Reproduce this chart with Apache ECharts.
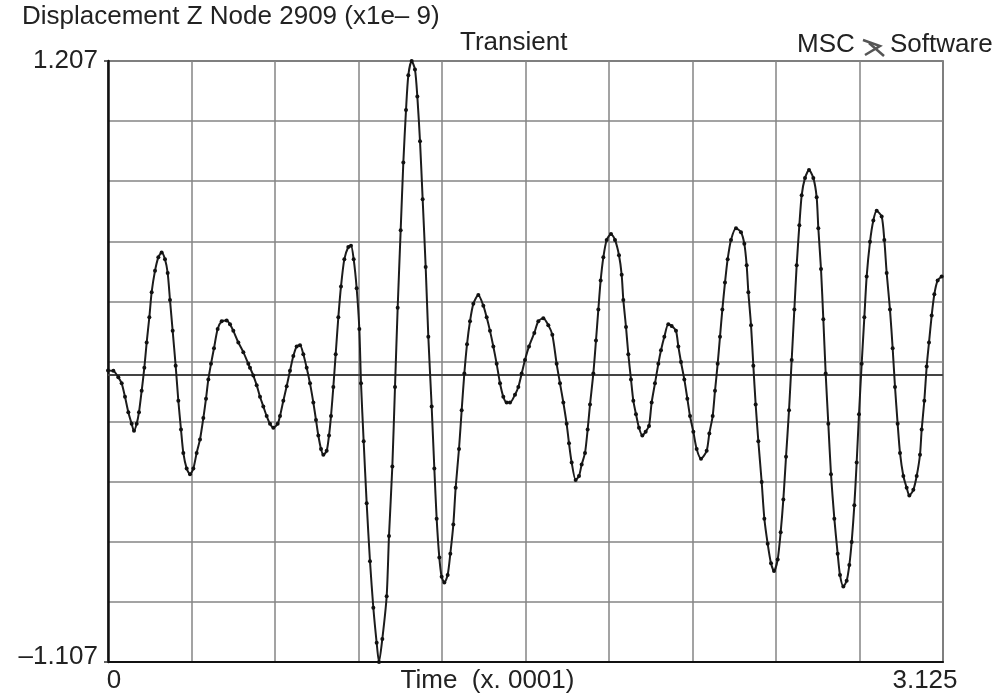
<!DOCTYPE html>
<html>
<head>
<meta charset="utf-8">
<title>Displacement Z Node 2909</title>
<script src="https://cdn.jsdelivr.net/npm/echarts@6/dist/echarts.min.js"></script>
<style>
  html, body { margin: 0; padding: 0; background: #fff; }
  #chart { width: 997px; height: 694px; }
</style>
</head>
<body>
<div id="chart"></div>
<script>
// time (x 0.0001), one row per grid strip
var times = [
  0, 0.020, 0.0387, 0.0512, 0.0636, 0.0761, 0.0886, 0.0973, 0.1073, 0.1160, 0.1260, 0.1360, 0.1447, 0.1547, 0.1634, 0.1759, 0.1884, 0.2008, 0.2133, 0.2233, 0.2320, 0.2420, 0.2532, 0.2632, 0.2732, 0.2819, 0.2944, 0.3069, 0.3194, 0.3318, 0.3443, 0.3568, 0.3668, 0.3755, 0.3855, 0.3967, 0.4104, 0.4254, 0.4441, 0.4566, 0.4691, 0.4878, 0.5065, 0.5252,
  0.5314, 0.5439, 0.5564, 0.5689, 0.5813, 0.5938, 0.6063, 0.6188, 0.6350, 0.6437, 0.6562, 0.6687, 0.6811, 0.6936, 0.7061, 0.7186, 0.7310, 0.7435, 0.7560, 0.7685, 0.7784, 0.7872, 0.7972, 0.8059, 0.8184, 0.8271, 0.8346, 0.8433, 0.8521, 0.8620, 0.8720, 0.8845, 0.8994, 0.9094, 0.9194, 0.9306, 0.9406, 0.9469, 0.9568, 0.9681, 0.9805, 0.9930, 1.0055, 1.0142, 1.0267, 1.0429, 1.0516,
  1.0641, 1.0741, 1.0841, 1.0953, 1.1053, 1.1153, 1.1240, 1.1365, 1.1489, 1.1577, 1.1677, 1.1776, 1.1889, 1.1988, 1.2113, 1.2213, 1.2300, 1.2400, 1.2487, 1.2587, 1.2712, 1.2812, 1.2924, 1.3011, 1.3136, 1.3236, 1.3336, 1.3436, 1.3548, 1.3673, 1.3860, 1.4047, 1.4172, 1.4296, 1.4421, 1.4546, 1.4671, 1.4795, 1.4920, 1.5045, 1.5232, 1.5357, 1.5482, 1.5606, 1.5756,
  1.5955, 1.6105, 1.6292, 1.6479, 1.6629, 1.6791, 1.6916, 1.7041, 1.7165, 1.7253, 1.7353, 1.7502, 1.7627, 1.7727, 1.7852, 1.7951, 1.8039, 1.8164, 1.8263, 1.8351, 1.8438, 1.8538, 1.8663, 1.8825, 1.8974, 1.9124, 1.9224, 1.9286, 1.9386, 1.9473, 1.9573, 1.9660, 1.9760, 1.9872, 1.9997, 2.0122, 2.0247, 2.0346, 2.0471, 2.0596, 2.0696, 2.0821, 2.0970,
  2.1095, 2.1257, 2.1345, 2.1444, 2.1569, 2.1682, 2.1782, 2.1906, 2.2031, 2.2193, 2.2405, 2.2505, 2.2630, 2.2717, 2.2817, 2.2904, 2.2992, 2.3091, 2.3191, 2.3316, 2.3503, 2.3690, 2.3815, 2.3902, 2.3965, 2.4065, 2.4152, 2.4239, 2.4339, 2.4464, 2.4564, 2.4689, 2.4813, 2.4926, 2.5063, 2.5175, 2.5275, 2.5375, 2.5487, 2.5587, 2.5687, 2.5774, 2.5874, 2.5961, 2.6086, 2.6236,
  2.6397, 2.6522, 2.6584, 2.6684, 2.6771, 2.6859, 2.6958, 2.7058, 2.7183, 2.7308, 2.7395, 2.7520, 2.7645, 2.7744, 2.7832, 2.7932, 2.8019, 2.8106, 2.8206, 2.8306, 2.8393, 2.8518, 2.8643, 2.8768, 2.8955, 2.9054, 2.9142, 2.9266, 2.9366, 2.9454, 2.9553, 2.9641, 2.9766, 2.9890, 2.9990, 3.0140, 3.0265, 3.0389, 3.0452, 3.0551, 3.0639, 3.0726, 3.0826, 3.0926, 3.1050, 3.1200
];

// displacement (x1e-9)
var displacement = [
  0.015, 0.014, -0.011, -0.034, -0.086, -0.145, -0.190, -0.217, -0.190, -0.145, -0.063, 0.026, 0.123, 0.220, 0.317, 0.399, 0.451, 0.470, 0.444, 0.391, 0.287, 0.168, 0.034, -0.101, -0.212, -0.302, -0.362, -0.384, -0.362, -0.302, -0.250, -0.168, -0.093, -0.019, 0.041, 0.101, 0.175, 0.205, 0.208, 0.193, 0.168, 0.123, 0.086, 0.041,
  0.026, -0.004, -0.041, -0.086, -0.123, -0.160, -0.190, -0.205, -0.190, -0.160, -0.101, -0.045, 0.014, 0.071, 0.108, 0.113, 0.078, 0.026, -0.034, -0.108, -0.175, -0.235, -0.287, -0.309, -0.294, -0.235, -0.160, -0.048, 0.078, 0.220, 0.339, 0.444, 0.491, 0.496, 0.444, 0.332, 0.175, -0.034, -0.257, -0.496, -0.719, -0.898, -1.033, -1.107, -1.018, -0.854, -0.622,
  -0.354, -0.048, 0.257, 0.555, 0.816, 1.018, 1.152, 1.207, 1.174, 1.070, 0.898, 0.675, 0.414, 0.145, -0.123, -0.362, -0.555, -0.705, -0.779, -0.801, -0.772, -0.690, -0.578, -0.436, -0.287, -0.138, 0.004, 0.116, 0.205, 0.272, 0.306, 0.265, 0.220, 0.168, 0.108, 0.041, -0.034, -0.086, -0.108, -0.108, -0.078, -0.048, 0.004, 0.056, 0.108,
  0.160, 0.205, 0.217, 0.190, 0.153, 0.041, -0.034, -0.108, -0.190, -0.265, -0.339, -0.406, -0.391, -0.347, -0.302, -0.212, -0.116, 0.004, 0.131, 0.250, 0.362, 0.451, 0.518, 0.541, 0.518, 0.459, 0.384, 0.287, 0.183, 0.078, -0.019, -0.101, -0.153, -0.205, -0.235, -0.220, -0.198, -0.108, -0.034, 0.041, 0.093, 0.145, 0.193,
  0.187, 0.168, 0.108, 0.048, -0.019, -0.093, -0.160, -0.220, -0.287, -0.324, -0.294, -0.227, -0.160, -0.063, 0.041, 0.145, 0.250, 0.354, 0.444, 0.518, 0.563, 0.548, 0.503, 0.421, 0.317, 0.190, 0.034, -0.116, -0.257, -0.414, -0.555, -0.652, -0.727, -0.757, -0.712, -0.607, -0.481, -0.317, -0.138, 0.056, 0.250, 0.421, 0.575, 0.690, 0.757, 0.787,
  0.757, 0.682, 0.563, 0.406, 0.213, 0.004, -0.190, -0.384, -0.555, -0.690, -0.772, -0.816, -0.794, -0.734, -0.645, -0.503, -0.339, -0.153, 0.041, 0.220, 0.377, 0.511, 0.593, 0.630, 0.608, 0.518, 0.391, 0.250, 0.101, -0.048, -0.190, -0.302, -0.391, -0.436, -0.466, -0.444, -0.391, -0.309, -0.212, -0.101, 0.031, 0.123, 0.227, 0.309, 0.362, 0.377
];

var xTickLabels = [0, 3.125];
var yTickLabels = [-1.107, 1.207];

var font = '"Liberation Sans", Arial, sans-serif';
var textColor = '#222';
var gridColor = '#858585';

if (times.length !== displacement.length) {
  console.error('length mismatch', times.length, displacement.length);
}
var points = times.map(function (t, i) { return [t, displacement[i]]; });

function isTick(v, list) {
  for (var i = 0; i < list.length; i++) {
    if (Math.abs(v - list[i]) < 1e-6) return true;
  }
  return false;
}

var option = {
  animation: false,
  backgroundColor: '#fff',
  title: [
    { text: 'Displacement Z Node 2909 (x1e\u2013 9)', left: 22, top: 4, padding: 0,
      textStyle: { fontSize: 26, fontWeight: 'normal', color: textColor, fontFamily: font } },
    { text: 'Transient', left: 460, top: 30, padding: 0,
      textStyle: { fontSize: 26, fontWeight: 'normal', color: textColor, fontFamily: font } },
    { text: 'MSC', left: 797, top: 32, padding: 0,
      textStyle: { fontSize: 26, fontWeight: 'normal', color: textColor, fontFamily: font } },
    { text: 'Software', left: 890, top: 32, padding: 0,
      textStyle: { fontSize: 26, fontWeight: 'normal', color: textColor, fontFamily: font } }
  ],
  graphic: [
    // little MSC logo mark between the two words
    { type: 'polyline', shape: { points: [[863, 40], [880, 46], [865, 55]] },
      style: { stroke: '#555', lineWidth: 2.5, fill: null } },
    { type: 'line', shape: { x1: 869, y1: 43, x2: 884, y2: 56 },
      style: { stroke: '#555', lineWidth: 2.5 } }
  ],
  grid: {
    left: 108, right: 54, top: 61, bottom: 32,
    outerBoundsMode: 'none',
    containLabel: false,
    show: true, borderColor: '#444', borderWidth: 1.5
  },
  xAxis: {
    type: 'value',
    min: 0, max: 3.125, interval: 0.3125,
    name: 'Time  (x. 0001)',
    nameLocation: 'middle',
    nameGap: 6,
    nameMoveOverlap: false,
    nameTextStyle: { fontSize: 26, color: textColor, fontFamily: font, verticalAlign: 'top', padding: [0, 76, 0, 0] },
    axisLine: { show: true, onZero: false, lineStyle: { color: '#111', width: 2 } },
    axisTick: { show: false },
    splitLine: { show: true, lineStyle: { color: gridColor, width: 1.5 } },
    axisLabel: {
      customValues: xTickLabels,
      margin: 6,
      fontSize: 26, color: textColor, fontFamily: font,
      formatter: function (v) {
        if (!isTick(v, xTickLabels)) return '';
        return v === 0 ? '{a|0}' : '{b|' + v.toFixed(3) + '}';
      },
      rich: {
        a: { fontSize: 26, color: textColor, fontFamily: font, padding: [0, 0, 0, 12] },
        b: { fontSize: 26, color: textColor, fontFamily: font, padding: [0, 36, 0, 0] }
      }
    }
  },
  yAxis: [
    {
      type: 'value',
      min: -1.107, max: 1.207,
      position: 'left',
      axisLine: { show: true, onZero: false, lineStyle: { color: '#111', width: 2.5 } },
      axisTick: { show: true, customValues: yTickLabels, length: 4, lineStyle: { color: '#333', width: 1.5 } },
      splitLine: { show: false },
      axisLabel: {
        customValues: yTickLabels,
        margin: 10,
        fontSize: 26, color: textColor, fontFamily: font,
        formatter: function (v) {
          if (!isTick(v, yTickLabels)) return '';
          return v < 0 ? '{lo|\u2013' + Math.abs(v).toFixed(3) + '}' : v.toFixed(3);
        },
        rich: {
          lo: { fontSize: 26, color: textColor, fontFamily: font, padding: [0, 0, 10, 0] }
        }
      }
    },
    {
      // ten even divisions for the horizontal grid
      type: 'value',
      min: 0, max: 10, interval: 1,
      position: 'right',
      axisLine: { show: false },
      axisTick: { show: false },
      axisLabel: { show: false },
      splitLine: { show: true, lineStyle: { color: gridColor, width: 1.5 } }
    }
  ],
  series: [
    {
      type: 'line',
      data: points,
      yAxisIndex: 0,
      smooth: 0.25,
      symbol: 'circle',
      symbolSize: 4,
      showAllSymbol: true,
      lineStyle: { color: '#1c1c1c', width: 2 },
      itemStyle: { color: '#111' },
      markLine: {
        silent: true,
        symbol: 'none',
        label: { show: false },
        lineStyle: { color: '#444', width: 2, type: 'solid' },
        data: [{ yAxis: 0 }]
      },
      z: 5
    }
  ]
};

var myChart = echarts.init(document.getElementById('chart'));
myChart.setOption(option);
</script>
</body>
</html>
